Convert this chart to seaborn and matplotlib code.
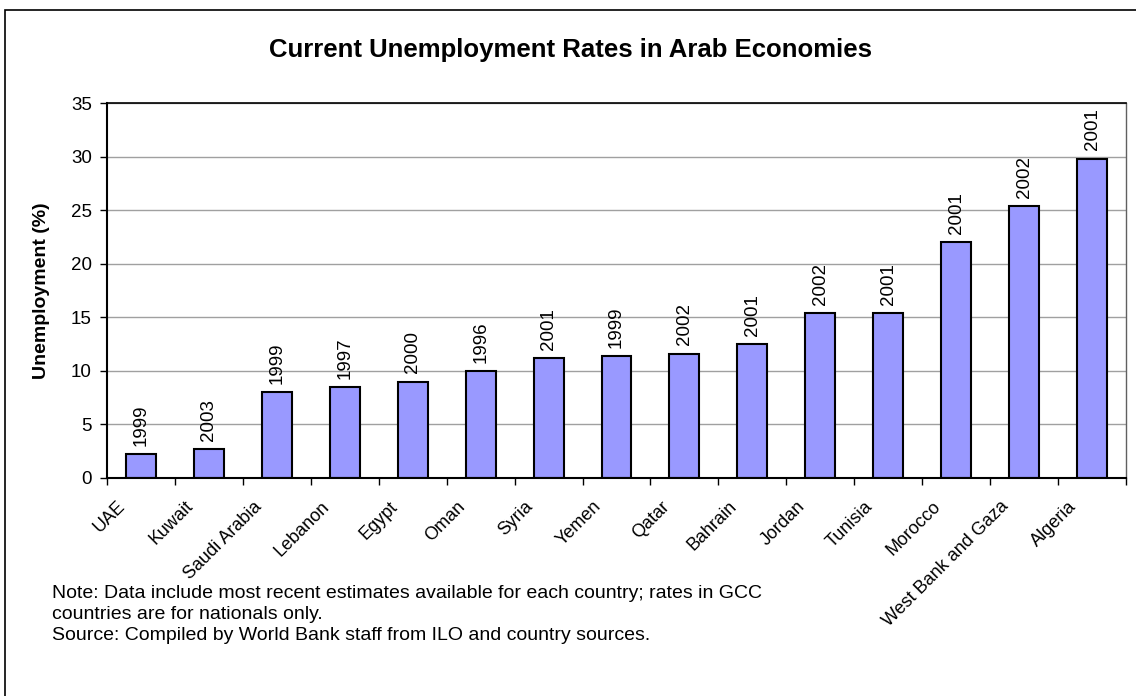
import numpy as np
import pandas as pd
import matplotlib
matplotlib.use("Agg")
import matplotlib.pyplot as plt
from matplotlib.patches import Rectangle
from matplotlib.transforms import ScaledTranslation
import seaborn as sns

# dados
countries = ["UAE", "Kuwait", "Saudi Arabia", "Lebanon", "Egypt", "Oman", "Syria",
             "Yemen", "Qatar", "Bahrain", "Jordan", "Tunisia", "Morocco",
             "West Bank and Gaza", "Algeria"]
rates = [2.2, 2.7, 8.0, 8.5, 9.0, 10.0, 11.2, 11.4, 11.6, 12.5, 15.4, 15.4, 22.0, 25.4, 29.8]
years = ["1999", "2003", "1999", "1997", "2000", "1996", "2001", "1999", "2002",
         "2001", "2002", "2001", "2001", "2002", "2001"]
y_ticks = [0, 5, 10, 15, 20, 25, 30, 35]

title = "Current Unemployment Rates in Arab Economies"
y_label = "Unemployment (%)"
notes = ["Note: Data include most recent estimates available for each country; rates in GCC",
         "countries are for nationals only.",
         "Source: Compiled by World Bank staff from ILO and country sources."]

df = pd.DataFrame({"Country": countries, "Rate": rates, "Year": years})

sns.set_theme(style="white")
plt.rcParams['font.family'] = ['Liberation Sans', 'DejaVu Sans']
plt.rcParams.update({"text.color": "black", "axes.labelcolor": "black",
                     "xtick.color": "black", "ytick.color": "black"})

W, H = 1136, 696
fig = plt.figure(figsize=(W / 100, H / 100), dpi=100)
ax = fig.add_axes([107 / W, 1 - 478 / H, (1126 - 107) / W, (478 - 103) / H])

sns.barplot(data=df, x="Country", y="Rate", color="#9999FF", saturation=1,
            edgecolor="black", linewidth=1.5, width=0.44, ax=ax)

ax.set_xlim(-0.5, len(countries) - 0.5)
ax.set_ylim(0, 35)
ax.set_yticks(y_ticks)
ax.yaxis.grid(True, color="#a0a0a0", linewidth=1)
ax.set_axisbelow(True)

# bordas
for side in ["left", "bottom"]:
    ax.spines[side].set_color("black")
    ax.spines[side].set_linewidth(1.5)
ax.spines["top"].set_color("black")
ax.spines["top"].set_linewidth(1.2)
ax.spines["right"].set_color("#606060")
ax.spines["right"].set_linewidth(1)

# ticks
ax.tick_params(axis="y", left=True, length=5, width=1, color="black", labelsize=13.5, pad=6)
ax.set_xticks(np.arange(-0.5, len(countries), 1), minor=True)
ax.tick_params(axis="x", which="minor", bottom=True, length=5, width=1, color="black")
ax.tick_params(axis="x", which="major", bottom=False, length=0, pad=0, labelsize=13)
offset = ScaledTranslation(-24 / 100, -20 / 100, fig.dpi_scale_trans)
for lbl in ax.get_xticklabels():
    lbl.set_rotation(45)
    lbl.set_ha("right")
    lbl.set_va("top")
    lbl.set_rotation_mode("anchor")
    lbl.set_transform(lbl.get_transform() + offset)

ax.set_xlabel("")
ax.set_ylabel(y_label, fontsize=14, fontweight="bold")
ax.yaxis.set_label_coords(-0.056, 0.5)

# anos em cima das barras
ax.bar_label(ax.containers[0], labels=years, rotation=90, padding=6, fontsize=13.5)

fig.text(0.502, 1 - 50 / H, title, ha="center", va="center", fontsize=18.5, fontweight="bold")

for i, line in enumerate(notes):
    fig.text(52 / W, 1 - (593 + 21.5 * i) / H, line, ha="left", va="center", fontsize=14)

# moldura do gráfico (cortada à direita e embaixo)
fig.add_artist(Rectangle((5 / W, -0.1), 2, 1 - 10 / H + 0.1, transform=fig.transFigure,
                         fill=False, edgecolor="black", linewidth=1.2))

fig.savefig("out.png", dpi=100)
